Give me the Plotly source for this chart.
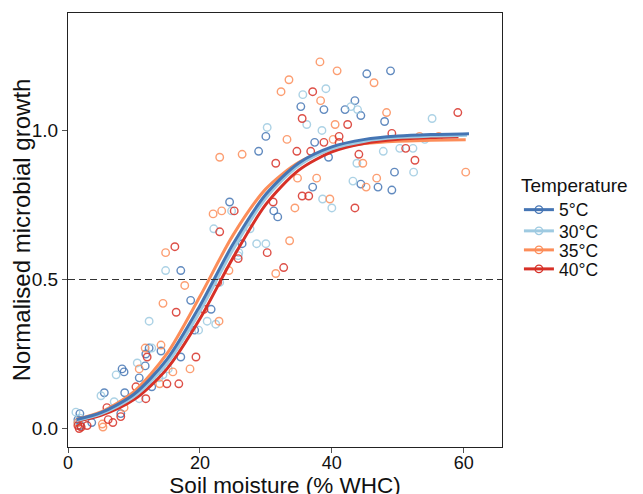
import plotly.graph_objects as go

# ---------------- data ----------------
temperatures = ["5°C", "30°C", "35°C", "40°C"]

t5_x = [45.3, 48.9, 43.5, 42.0, 35.3, 38.8, 44.4, 48.0, 37.4, 39.5, 49.5, 44.4, 47.0, 49.1,
        37.1, 31.2, 31.8, 30.0, 28.9, 24.5, 26.4, 17.1, 18.6, 21.7, 19.2, 17.1, 11.8, 12.3,
        14.1, 11.7, 8.2, 8.5, 10.8, 12.7, 5.5, 8.6, 8.0, 3.6, 1.8, 1.5, 1.9]
t5_y = [1.19, 1.20, 1.10, 1.07, 1.08, 1.07, 1.05, 1.03, 0.96, 0.91, 0.86, 0.82, 0.81, 0.80,
        0.81, 0.73, 0.71, 0.98, 0.93, 0.76, 0.62, 0.53, 0.43, 0.40, 0.33, 0.24, 0.25, 0.27,
        0.26, 0.21, 0.20, 0.19, 0.17, 0.14, 0.12, 0.12, 0.05, 0.02, 0.05, 0.03, 0.01]

t30_x = [39.1, 35.6, 42.9, 43.9, 55.2, 36.2, 38.5, 30.2, 50.3, 52.3, 43.8, 52.4, 43.2, 38.6,
         40.0, 24.8, 22.1, 27.6, 28.6, 30.0, 25.8, 25.9, 14.8, 23.0, 21.1, 22.4, 12.3, 19.8,
         12.7, 10.5, 13.8, 14.4, 15.2, 7.3, 5.0, 10.8, 7.0, 1.2, 1.8, 1.5, 47.8, 54.1]
t30_y = [1.14, 1.12, 1.08, 1.07, 1.04, 1.02, 1.00, 1.01, 0.94, 0.94, 0.89, 0.86, 0.83, 0.77,
         0.74, 0.73, 0.67, 0.67, 0.62, 0.62, 0.58, 0.59, 0.53, 0.49, 0.36, 0.35, 0.36, 0.33,
         0.27, 0.22, 0.17, 0.18, 0.20, 0.18, 0.11, 0.10, 0.09, 0.055, 0.035, 0.02, 0.93, 0.97]

t35_x = [38.2, 40.8, 33.5, 32.3, 46.4, 38.3, 48.3, 40.5, 33.2, 40.2, 53.3, 56.2, 44.7, 60.3,
         34.8, 37.7, 46.8, 45.2, 39.7, 34.4, 33.6, 31.5, 23.0, 26.4, 22.0, 23.3, 24.4, 14.8,
         17.7, 14.4, 22.9, 18.5, 11.7, 14.1, 15.9, 10.8, 13.9, 8.5, 5.2, 5.3, 1.5]
t35_y = [1.23, 1.20, 1.17, 1.13, 1.16, 1.10, 1.06, 1.02, 0.97, 0.97, 0.98, 0.98, 0.89, 0.86,
         0.84, 0.84, 0.84, 0.81, 0.77, 0.74, 0.63, 0.52, 0.91, 0.92, 0.72, 0.73, 0.53, 0.59,
         0.48, 0.42, 0.36, 0.20, 0.27, 0.28, 0.19, 0.20, 0.15, 0.07, 0.015, 0.005, 0.02]

t40_x = [37.1, 35.5, 42.4, 41.1, 38.8, 41.1, 49.1, 59.1, 51.2, 52.6, 34.7, 36.8, 44.1, 31.5,
         35.5, 36.5, 43.5, 31.1, 25.2, 23.0, 30.2, 25.8, 32.7, 16.2, 22.7, 20.6, 16.4, 19.4,
         12.0, 15.0, 16.8, 11.8, 10.3, 5.9, 8.0, 6.1, 6.8, 2.9, 1.7, 2.0, 1.5]
t40_y = [1.13, 1.04, 1.02, 0.98, 0.96, 0.96, 0.99, 1.06, 0.94, 0.90, 0.93, 0.93, 0.92, 0.89,
         0.78, 0.78, 0.74, 0.76, 0.73, 0.66, 0.59, 0.57, 0.54, 0.61, 0.49, 0.40, 0.39, 0.24,
         0.24, 0.15, 0.15, 0.10, 0.14, 0.07, 0.04, 0.03, 0.02, 0.01, 0.0, 0.005, 0.01]

fit5_x = [1.3, 5, 10, 15, 20, 25, 30, 35, 40, 45, 50, 55, 60.8]
fit5_y = [0.030, 0.053, 0.115, 0.232, 0.412, 0.618, 0.786, 0.891, 0.945, 0.970, 0.981, 0.986, 0.989]
fit30_x = [1.3, 5, 10, 15, 20, 25, 30, 35, 40, 45, 50, 55, 60.5]
fit30_y = [0.027, 0.049, 0.107, 0.218, 0.393, 0.600, 0.773, 0.882, 0.938, 0.964, 0.976, 0.981, 0.984]
fit35_x = [1.3, 5, 10, 15, 20, 25, 30, 35, 40, 45, 50, 55, 60.3]
fit35_y = [0.031, 0.056, 0.124, 0.251, 0.443, 0.648, 0.804, 0.893, 0.936, 0.956, 0.964, 0.967, 0.969]
fit40_x = [1.3, 5, 10, 15, 20, 25, 30, 35, 40, 45, 50, 55, 59.2]
fit40_y = [0.025, 0.044, 0.097, 0.200, 0.368, 0.572, 0.752, 0.867, 0.928, 0.957, 0.970, 0.976, 0.979]

half_growth = 0.5
x_ticks = [0, 20, 40, 60]
y_ticks = [0.0, 0.5, 1.0]

# ---------------- styling ----------------
colors = {"5°C": "#4575B4", "30°C": "#9ECAE1", "35°C": "#FC8D59", "40°C": "#D73027"}
FONT = "Liberation Sans, Arial, Helvetica, sans-serif"

points = {"5°C": (t5_x, t5_y), "30°C": (t30_x, t30_y),
          "35°C": (t35_x, t35_y), "40°C": (t40_x, t40_y)}
fits = {"5°C": (fit5_x, fit5_y), "30°C": (fit30_x, fit30_y),
        "35°C": (fit35_x, fit35_y), "40°C": (fit40_x, fit40_y)}

fig = go.Figure()

for t in temperatures:
    xs, ys = points[t]
    fig.add_trace(go.Scatter(
        x=xs, y=ys, mode="markers", showlegend=False, name=t,
        marker=dict(symbol="circle-open", size=7.5, color=colors[t],
                    opacity=0.85, line=dict(width=1.4, color=colors[t])),
    ))

for t in ["35°C", "40°C", "30°C", "5°C"]:
    xs, ys = fits[t]
    fig.add_trace(go.Scatter(
        x=xs, y=ys, mode="lines", showlegend=False, name=t,
        line=dict(color=colors[t], width=3, shape="spline", smoothing=0.8),
    ))

# legend entries (line + open circle, as in the reference key); one legend box per
# entry so that the rows can sit as close together as in the reference
legend_ids = ["legend", "legend2", "legend3", "legend4"]
for t, lid in zip(temperatures, legend_ids):
    fig.add_trace(go.Scatter(
        x=[None], y=[None], mode="lines+markers", name=t, legend=lid,
        line=dict(color=colors[t], width=3),
        marker=dict(symbol="circle-open", size=7.5, color=colors[t],
                    line=dict(width=1.4, color=colors[t])),
    ))

fig.add_hline(y=half_growth, line=dict(color="#333333", width=1.2, dash="7px,4px"))

axis_common = dict(
    showgrid=False, zeroline=False, showline=True, linecolor="#222222", linewidth=1.2,
    mirror=True, ticks="outside", ticklen=5, tickwidth=1, tickcolor="#555555",
)

fig.update_xaxes(
    **axis_common, range=[0, 65.8], tickvals=x_ticks, ticklabelstandoff=-6,
    tickfont=dict(family=FONT, size=18, color="#111111"),
    title=dict(text="Soil moisture (% WHC)", font=dict(family=FONT, size=22.5, color="#111111"),
               standoff=0),
)
fig.update_yaxes(
    **axis_common, range=[-0.062, 1.394], tickvals=y_ticks, tickformat=".1f",
    tickfont=dict(family=FONT, size=19, color="#111111"),
    title=dict(text="Normalised microbial growth", font=dict(family=FONT, size=24, color="#111111"),
               standoff=0),
)

item_font = dict(family=FONT, size=17.5, color="#111111")
common_leg = dict(font=item_font, x=1.039, xanchor="left", bgcolor="rgba(0,0,0,0)", itemwidth=30)

fig.update_layout(
    width=643, height=494,
    margin=dict(l=60, r=149, t=5, b=55, autoexpand=False),
    paper_bgcolor="white", plot_bgcolor="white",
    font=dict(family=FONT, color="#111111"),
    legend=dict(title=dict(text="Temperature", font=dict(family=FONT, size=19)),
                y=0.645, yanchor="top", **common_leg),
    legend2=dict(y=0.4977, yanchor="middle", **common_leg),
    legend3=dict(y=0.4539, yanchor="middle", **common_leg),
    legend4=dict(y=0.4101, yanchor="middle", **common_leg),
)

fig.write_html("out.html")
